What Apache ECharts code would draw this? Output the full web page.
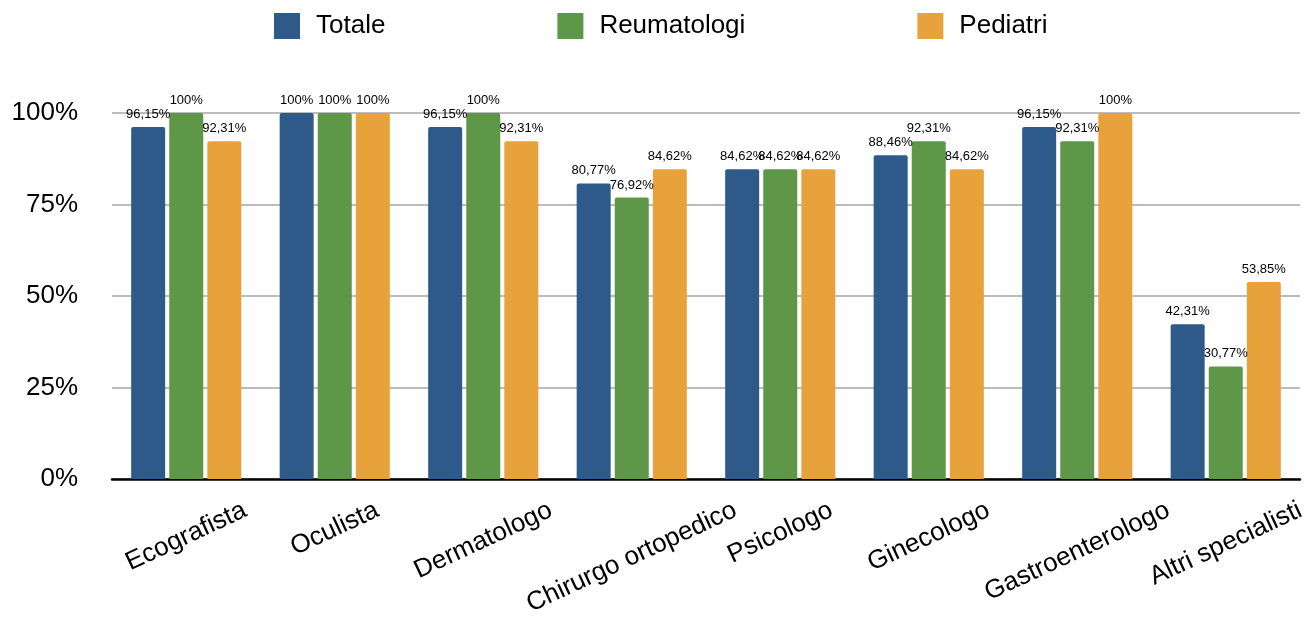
<!DOCTYPE html>
<html>
<head>
<meta charset="utf-8">
<script src="https://cdn.jsdelivr.net/npm/echarts@6/dist/echarts.min.js"></script>
<style>
html,body{margin:0;padding:0;background:#fff;}
#chart{width:1306px;height:618px;}
</style>
</head>
<body>
<div id="chart"></div>
<script>
const categories = ['Ecografista', 'Oculista', 'Dermatologo', 'Chirurgo ortopedico', 'Psicologo', 'Ginecologo', 'Gastroenterologo', 'Altri specialisti'];
const seriesNames = ['Totale', 'Reumatologi', 'Pediatri'];
const totale = [96.15, 100, 96.15, 80.77, 84.62, 88.46, 96.15, 42.31];
const reumatologi = [100, 100, 100, 76.92, 84.62, 92.31, 92.31, 30.77];
const pediatri = [92.31, 100, 92.31, 84.62, 84.62, 84.62, 100, 53.85];
const yTicks = [0, 25, 50, 75, 100];
const colors = ['#2e5a8a', '#5e9748', '#e7a23c'];

const FONT = "'Liberation Sans', Arial, Helvetica, sans-serif";
const AX_FONT_SIZE = 26;
const ROT = 25;

// measure text lengths so rotated labels hang centered under their category, as in the original
const cv = document.createElement('canvas').getContext('2d');
cv.font = AX_FONT_SIZE + 'px ' + FONT;
const th = ROT * Math.PI / 180;
const lens = categories.map(c => cv.measureText(c).width);
const minLen = Math.min.apply(null, lens);
const rich = {};
categories.forEach((c, i) => {
  const d = (lens[i] - minLen) * Math.sin(th) / 2;
  const t = 2 * d * Math.cos(th);
  const r = 2 * d * Math.sin(th);
  rich['p' + i] = {
    fontSize: AX_FONT_SIZE,
    fontFamily: FONT,
    color: '#000',
    padding: [t, r, 0, 0]
  };
});
const baseMargin = 30 + minLen * Math.sin(th) / 2;

function fmt(v) {
  return (Number.isInteger(v) ? String(v) : v.toFixed(2).replace('.', ',')) + '%';
}

const data = [totale, reumatologi, pediatri];
const chart = echarts.init(document.getElementById('chart'), null, { renderer: 'canvas' });
chart.setOption({
  animation: false,
  textStyle: { fontFamily: FONT },
  legend: {
    left: 274,
    top: 13,
    padding: 0,
    itemWidth: 26,
    itemHeight: 26,
    itemGap: 172,
    icon: 'rect',
    textStyle: { fontSize: 26, color: '#000', fontFamily: FONT, padding: [6, 0, 0, 11] },
    data: seriesNames
  },
  grid: { left: 112, right: 6, top: 113, bottom: 139, containLabel: false, outerBoundsMode: 'none' },
  xAxis: {
    type: 'category',
    data: categories,
    axisLine: { lineStyle: { color: '#000', width: 2.5 } },
    axisTick: { show: false },
    axisLabel: {
      interval: 0,
      rotate: ROT,
      align: 'center',
      verticalAlign: 'middle',
      margin: baseMargin,
      fontSize: AX_FONT_SIZE,
      color: '#000',
      fontFamily: FONT,
      formatter: (v, i) => '{p' + i + '|' + v + '}',
      rich: rich
    }
  },
  yAxis: {
    type: 'value',
    min: yTicks[0],
    max: yTicks[yTicks.length - 1],
    interval: yTicks[1] - yTicks[0],
    axisLine: { show: false },
    axisTick: { show: false },
    splitLine: { lineStyle: { color: '#bcbcbc', width: 2 } },
    axisLabel: {
      margin: 34,
      fontSize: 26,
      color: '#000',
      fontFamily: FONT,
      formatter: v => v + '%'
    }
  },
  series: seriesNames.map((name, k) => ({
    name: name,
    type: 'bar',
    data: data[k],
    barWidth: 34,
    barGap: '12%',
    itemStyle: { color: colors[k], borderRadius: [2, 2, 0, 0] },
    label: {
      show: true,
      position: 'top',
      distance: 6,
      fontSize: 13,
      color: '#000',
      fontFamily: FONT,
      formatter: p => fmt(p.value)
    }
  }))
});
</script>
</body>
</html>
